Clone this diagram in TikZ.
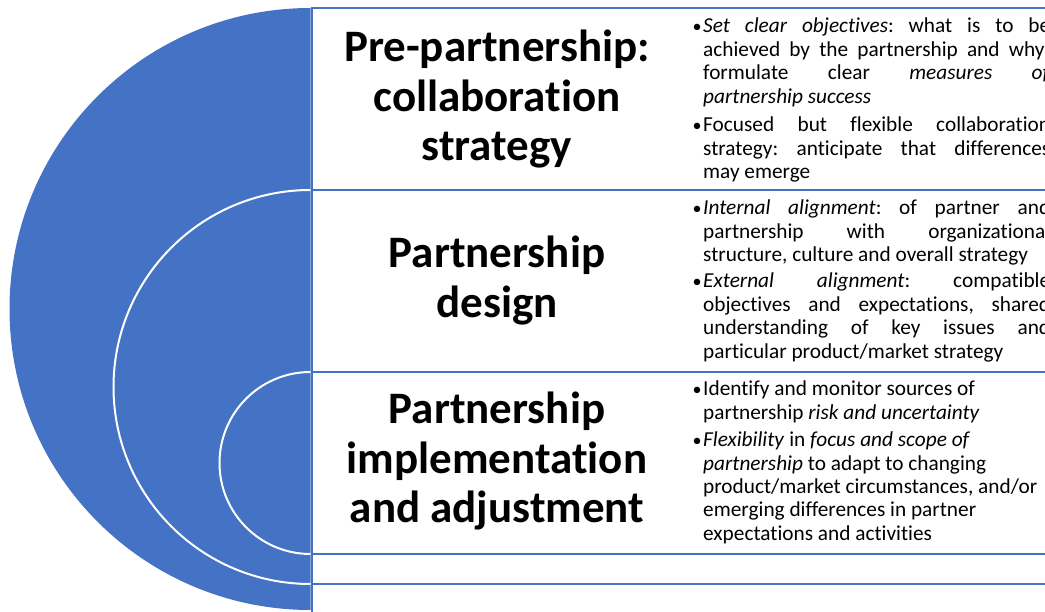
\documentclass[tikz,border=0pt]{standalone}
\usepackage{fontspec}
\usepackage{graphicx}
\setmainfont{Carlito}[Ligatures={NoCommon}]
\definecolor{ppblue}{HTML}{4472C4}
\newcommand\bl{\makebox[10pt][l]{\hspace{-0.5pt}\scalebox{0.85}{\textbullet}}}
\newcommand\il{\hspace*{10pt}}
\newcommand\jl[1]{\makebox[347pt][s]{#1}}
\newcommand\bodyfont{\fontsize{21.3}{23.5}\selectfont\frenchspacing}
\newcommand\ttlfont{\fontsize{45}{49.5}\selectfont\bfseries}
\begin{document}
\begin{tikzpicture}[x=1pt,y=-1pt,
  rowbox/.style={draw=ppblue, line width=2pt, fill=white},
  arcline/.style={draw=white, line width=2pt},
  ttl/.style={anchor=base, inner sep=0pt, font=\ttlfont},
  bul/.style={anchor=base west, inner sep=0pt, font=\bodyfont}]
\useasboundingbox (0,0) rectangle (1045,612);
\clip (0,0) rectangle (1045,612);
% row boxes
\draw[rowbox] (312,8) rectangle (1070,190);
\draw[rowbox] (312,190) rectangle (1070,372);
\draw[rowbox] (312,372) rectangle (1070,554);
\draw[rowbox] (312,554) rectangle (1070,584);
\draw[rowbox] (312,584) rectangle (1070,640);
% semicircle
\fill[ppblue] (310.5,8) arc[start angle=-90, end angle=-270, radius=301] -- cycle;
\draw[arcline] (310.5,190) arc[start angle=-90, end angle=-270, radius=197];
\draw[arcline] (310.5,372) arc[start angle=-90, end angle=-270, radius=91];
% titles
\node[ttl] (t1) at (497,62) {\parbox[t]{340pt}{\centering\ttlfont Pre-partnership:\\collaboration\\strategy}};
\node[ttl] (t2) at (497,268) {\parbox[t]{340pt}{\centering\ttlfont Partnership\\design}};
\node[ttl] (t3) at (497,424) {\parbox[t]{340pt}{\centering\ttlfont Partnership\\implementation\\and adjustment}};
% bullets
\node[bul] (b1) at (693,33) {\parbox[t]{400pt}{\bodyfont
\bl\jl{\textit{Set clear objectives}: what is to be}\par
\il\jl{achieved by the partnership and why;}\par
\il\jl{formulate clear \textit{measures of}}\par
\il\textit{partnership success}\par
\vspace{5pt}
\bl\jl{Focused but flexible collaboration}\par
\il\jl{strategy: anticipate that differences}\par
\il may emerge}};
\node[bul] (b2) at (693,215) {\parbox[t]{400pt}{\bodyfont
\bl\jl{\textit{Internal alignment}: of partner and}\par
\il\jl{partnership with organizational}\par
\il structure, culture and overall strategy\par
\vspace{2.5pt}
\bl\jl{\textit{External alignment}: compatible}\par
\il\jl{objectives and expectations, shared}\par
\il\jl{understanding of key issues and}\par
\il particular product/market strategy}};
\node[bul] (b3) at (693,396) {\parbox[t]{400pt}{\bodyfont
\bl Identify and monitor sources of\par
\il partnership \textit{risk and uncertainty}\par
\vspace{3.5pt}
\bl\textit{Flexibility} in \textit{focus and scope of}\par
\il\textit{partnership} to adapt to changing\par
\il product/market circumstances, and/or\par
\il emerging differences in partner\par
\il expectations and activities}};
\end{tikzpicture}
\end{document}
